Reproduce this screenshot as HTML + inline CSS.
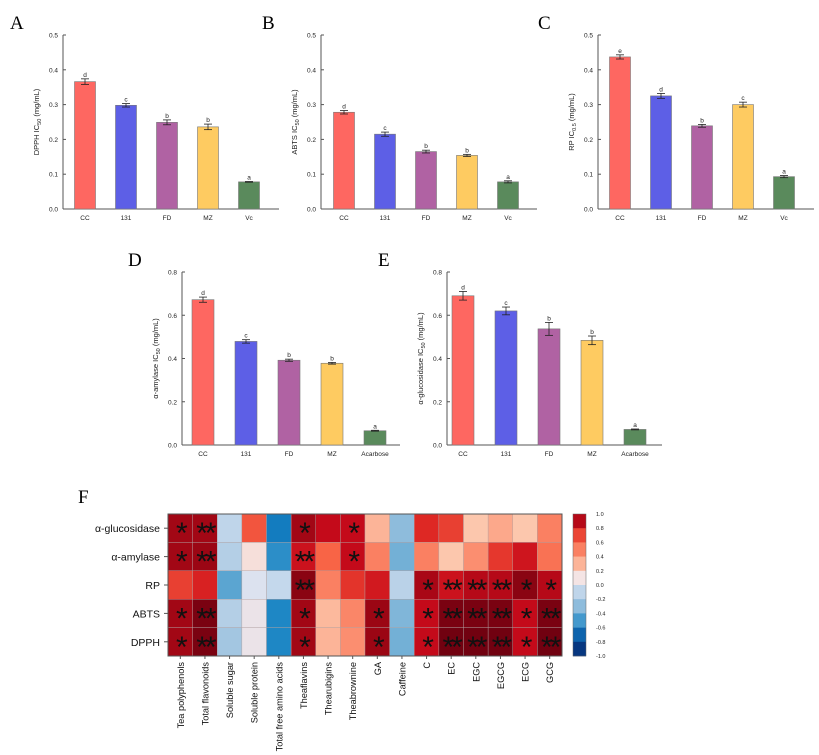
<!DOCTYPE html>
<html><head><meta charset="utf-8"><style>
html,body{margin:0;padding:0;background:#fff;}
svg{display:block;font-family:"Liberation Sans",Arial,sans-serif;}
.pl{font-family:"Liberation Serif",serif;font-size:19px;}
</style></head><body>
<svg id="s" width="819" height="755" viewBox="0 0 819 755">
<text class="pl" x="10" y="29">A</text>
<text class="pl" x="262" y="29">B</text>
<text class="pl" x="538" y="29">C</text>
<text class="pl" x="128" y="266">D</text>
<text class="pl" x="378" y="266">E</text>
<text class="pl" x="78" y="503">F</text>
</svg>
<script>
var NS="http://www.w3.org/2000/svg";
var svg=document.getElementById('s');
function mk(tag,attrs,parent,txt){var e=document.createElementNS(NS,tag);for(var k in attrs)e.setAttribute(k,attrs[k]);if(txt!==undefined)e.textContent=txt;(parent||svg).appendChild(e);return e;}

var barColors=["#fe6761","#5d5fe6","#b062a3","#fecb61","#5a8a5c"];
var cats1=["CC","131","FD","MZ","Vc"];
var cats2=["CC","131","FD","MZ","Acarbose"];
var valsA=[0.366,0.298,0.249,0.236,0.078];
var errA=[0.008,0.005,0.007,0.008,0.001];
var sigA=["d","c","b","b","a"];
var valsB=[0.278,0.215,0.165,0.154,0.078];
var errB=[0.005,0.006,0.004,0.003,0.003];
var sigB=["d","c","b","b","a"];
var valsC=[0.437,0.325,0.239,0.300,0.093];
var errC=[0.006,0.007,0.004,0.007,0.003];
var sigC=["e","d","b","c","a"];
var valsD=[0.672,0.479,0.392,0.378,0.066];
var errD=[0.012,0.008,0.005,0.004,0.002];
var sigD=["d","c","b","b","a"];
var valsE=[0.690,0.620,0.537,0.484,0.072];
var errE=[0.020,0.018,0.030,0.020,0.002];
var sigE=["d","c","b","b","a"];
var ticksA=[0,0.1,0.2,0.3,0.4,0.5];
var ticksD=[0,0.2,0.4,0.6,0.8];

function barChart(o){
  var g=mk('g',{});
  
  
  var ymax=o.ticks[o.ticks.length-1];
  function y(v){return o.y0-(v/ymax)*(o.y0-o.y1);}
  function x(i){return o.xc0+i*o.step;}
  var ax=mk('line',{x1:o.ax,y1:o.y1,x2:o.ax,y2:o.y0,stroke:"#555","stroke-width":1},g);
  
  var xa=mk('line',{x1:o.ax,y1:o.y0,x2:o.axEnd,y2:o.y0,stroke:"#555","stroke-width":1},g);
  
  o.ticks.forEach(function(t){
    mk('line',{x1:o.ax,y1:y(t),x2:o.ax+3,y2:y(t),stroke:"#555"},g);
    var tl=mk('text',{x:o.ax-5,y:y(t)+2.5,"font-size":6.5,"text-anchor":"end",fill:"#222"},g,t.toFixed(1));
    
  });
  o.vals.forEach(function(v,i){
    var cx=x(i);
    var r=mk('rect',{x:cx-o.bw/2,y:y(v),width:o.bw,height:o.y0-y(v),fill:barColors[i],stroke:"#777","stroke-width":0.6},g);
    
    var e=o.err[i];
    mk('line',{x1:cx,y1:y(v+e),x2:cx,y2:y(v-e),stroke:"#222","stroke-width":0.8},g);
    mk('line',{x1:cx-4,y1:y(v+e),x2:cx+4,y2:y(v+e),stroke:"#222","stroke-width":0.8},g);
    mk('line',{x1:cx-4,y1:y(v-e),x2:cx+4,y2:y(v-e),stroke:"#222","stroke-width":0.8},g);
    var s=mk('text',{x:cx,y:y(v+e)-2,"font-size":6.5,"text-anchor":"middle",fill:"#222"},g,o.sig[i]);
    
    var xl=mk('text',{x:cx,y:o.y0+11,"font-size":6.5,"text-anchor":"middle",fill:"#222"},g,o.cats[i]);
    
  });
  var mid=(o.y0+o.y1)/2;
  var yt=mk('text',{x:0,y:0,"font-size":7.5,"text-anchor":"middle",fill:"#222",transform:"translate("+(o.ax-24)+","+mid+") rotate(-90)"},g);
  
  mk('tspan',{},yt,o.t1);
  mk('tspan',{"font-size":5.5,dy:2},yt,o.sub);
  mk('tspan',{dy:-2},yt," (mg/mL)");
}
barChart({name:"chart-dpph",ax:63,axEnd:279,y0:209,y1:35,xc0:85,step:41,bw:21,ticks:ticksA,vals:valsA,err:errA,sig:sigA,cats:cats1,t1:"DPPH IC",sub:"50"});
barChart({name:"chart-abts",ax:321,axEnd:537,y0:209,y1:35,xc0:344,step:41,bw:21,ticks:ticksA,vals:valsB,err:errB,sig:sigB,cats:cats1,t1:"ABTS IC",sub:"50"});
barChart({name:"chart-rp",ax:598,axEnd:814,y0:209,y1:35,xc0:620,step:41,bw:21,ticks:ticksA,vals:valsC,err:errC,sig:sigC,cats:cats1,t1:"RP IC",sub:"0.5"});
barChart({name:"chart-alpha-amylase",ax:182,axEnd:400,y0:445,y1:272,xc0:203,step:43,bw:22,ticks:ticksD,vals:valsD,err:errD,sig:sigD,cats:cats2,t1:"α-amylase IC",sub:"50"});
barChart({name:"chart-alpha-glucosidase",ax:447,axEnd:662,y0:445,y1:272,xc0:463,step:43,bw:22,ticks:ticksD,vals:valsE,err:errE,sig:sigE,cats:cats2,t1:"α-glucosidase IC",sub:"50"});

// Heatmap
var rowsF=["α-glucosidase","α-amylase","RP","ABTS","DPPH"];
var colsF=["Tea polyphenols","Total flavonoids","Soluble sugar","Soluble protein","Total free amino acids","Theaflavins","Thearubigins","Theabrownine","GA","Caffeine","C","EC","EGC","EGCG","ECG","GCG"];
var corrF=[
[0.93,0.93,-0.1,0.65,-0.62,0.93,0.88,0.88,0.3,-0.3,0.8,0.72,0.22,0.35,0.22,0.5],
[0.93,0.94,-0.15,0.12,-0.55,0.86,0.6,0.88,0.5,-0.4,0.5,0.22,0.45,0.75,0.85,0.55],
[0.72,0.82,-0.45,0.02,-0.08,0.96,0.5,0.76,0.84,-0.12,0.92,0.86,0.9,0.9,0.96,0.9],
[0.93,0.98,-0.15,0.07,-0.58,0.93,0.28,0.48,0.94,-0.35,0.88,0.98,0.98,0.98,0.88,0.98],
[0.93,0.98,-0.22,0.07,-0.58,0.93,0.3,0.45,0.94,-0.4,0.88,0.99,0.99,0.99,0.88,0.99]];
var starsF=[
["*","**","","","","*","","*","","","","","","","",""],
["*","**","","","","**","","*","","","","","","","",""],
["","","","","","**","","","","","*","**","**","**","*","*"],
["*","**","","","","*","","","*","","*","**","**","**","*","**"],
["*","**","","","","*","","","*","","*","**","**","**","*","**"]];
var cbTicks=[1.0,0.8,0.6,0.4,0.2,0.0,-0.2,-0.4,-0.6,-0.8,-1.0];
var stops=[[-1,[5,40,105]],[-0.8,[8,70,150]],[-0.6,[20,130,195]],[-0.4,[115,176,214]],[-0.2,[168,200,226]],[0,[214,226,242]],[0.1,[244,228,228]],[0.2,[252,204,178]],[0.4,[252,156,126]],[0.6,[248,100,70]],[0.8,[222,40,36]],[0.88,[196,10,26]],[0.94,[155,6,20]],[1,[105,0,15]]];
function col(v){
  for(var i=1;i<stops.length;i++){if(v<=stops[i][0]){var a=stops[i-1],b=stops[i],t=(v-a[0])/(b[0]-a[0]);
    return "rgb("+[0,1,2].map(function(k){return Math.round(a[1][k]+t*(b[1][k]-a[1][k]));}).join(",")+")";}}
  return "rgb(105,0,15)";
}
var hx0=168,hx1=562,hy0=514,hy1=656;
var cw=(hx1-hx0)/colsF.length, rh=(hy1-hy0)/rowsF.length;
function hx(j){return hx0+j*cw;}
function hy(i){return hy0+i*rh;}
var hg=mk('g',{});


corrF.forEach(function(row,i){row.forEach(function(v,j){
  var r=mk('rect',{x:hx(j),y:hy(i),width:cw,height:rh,fill:col(v),stroke:"#b0a0a0","stroke-width":0.4},hg);
  
  if(starsF[i][j]){var t=mk('text',{x:hx(j)+cw/2,y:hy(i)+rh/2+15,"font-size":30,"text-anchor":"middle",fill:"#111","letter-spacing":"-3"},hg,starsF[i][j]);
    }
});});
mk('rect',{x:hx0,y:hy0,width:hx1-hx0,height:hy1-hy0,fill:"none",stroke:"#555","stroke-width":1},hg);
rowsF.forEach(function(r,i){
  var t=mk('text',{x:hx0-8,y:hy(i)+rh/2+4,"font-size":10.5,"text-anchor":"end",fill:"#111"},hg,r);
  
  mk('line',{x1:hx0-4,y1:hy(i)+rh/2,x2:hx0,y2:hy(i)+rh/2,stroke:"#555"},hg);
});
colsF.forEach(function(c,j){
  var cx=hx(j)+cw/2;
  mk('line',{x1:cx,y1:hy1,x2:cx,y2:hy1+3,stroke:"#555"},hg);
  var t=mk('text',{x:0,y:0,"font-size":9.2,"text-anchor":"end",fill:"#111",transform:"translate("+(cx+3.5)+","+(hy1+6)+") rotate(-90)"},hg,c);
  
});
// colorbar
var cbx=573,cbw=13;
var cg=mk('g',{});


function cy(v){return hy0+(1-v)/2*(hy1-hy0);}
for(var k=0;k<cbTicks.length-1;k++){
  var v=(cbTicks[k]+cbTicks[k+1])/2;
  mk('rect',{x:cbx,y:cy(cbTicks[k]),width:cbw,height:cy(cbTicks[k+1])-cy(cbTicks[k])+0.3,fill:col(v)},cg);
}
mk('rect',{x:cbx,y:hy0,width:cbw,height:hy1-hy0,fill:"none",stroke:"#666","stroke-width":0.5},cg);
cbTicks.forEach(function(t){
  var l=mk('text',{x:cbx+cbw+10,y:cy(t)+2,"font-size":5.5,fill:"#222"},cg,t.toFixed(1));
  
});
</script>
</body></html>
